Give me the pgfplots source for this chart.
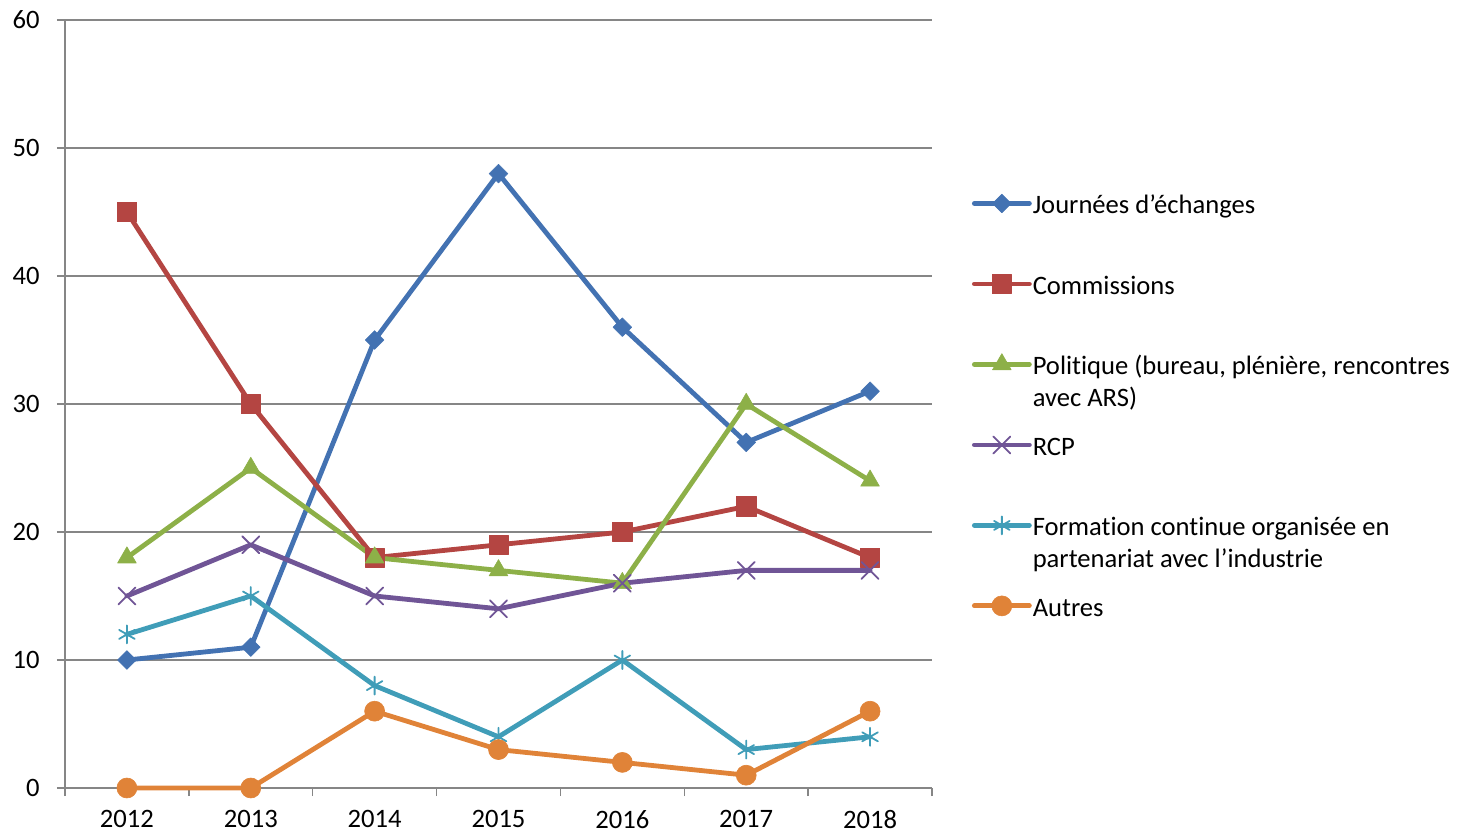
\documentclass[border=0pt]{standalone}
\usepackage{pgfplots}
\pgfplotsset{compat=1.18}
\usepackage{fontspec}
\setmainfont{Carlito}[Ligatures={NoCommon}]
\definecolor{cblue}{RGB}{67,114,178}
\definecolor{cred}{RGB}{180,69,66}
\definecolor{cgreen}{RGB}{141,176,72}
\definecolor{cpurple}{RGB}{112,85,150}
\definecolor{caqua}{RGB}{64,157,184}
\definecolor{corange}{RGB}{224,131,56}
\definecolor{axgray}{RGB}{134,134,134}
\newcommand{\lt}[1]{\raisebox{0pt}[12bp][3bp]{\parbox[t]{240bp}{\raggedright #1}}}
\begin{document}
\begin{tikzpicture}
\begin{axis}[
  at={(32.5bp,22.5bp)}, anchor=south west,
  scale only axis, width=433.5bp, height=384bp,
  xmin=-0.5, xmax=6.5, ymin=0, ymax=60,
  clip=false,
  axis lines*=left,
  axis line style={draw=axgray, line width=0.9bp},
  xtick={0,...,6},
  xticklabels={2012,2013,2014,2015,2016,2017,2018},
  major x tick style={draw=none},
  minor xtick={-0.5,0.5,...,6.5},
  ytick={0,10,...,60},
  tick align=outside,
  major tick length=4bp, minor tick length=4bp,
  every tick/.style={draw=axgray, line width=0.75bp},
  ymajorgrids,
  grid style={draw=axgray, line width=0.75bp},
  /pgf/number format/assume math mode=true,
  tick label style={font=\fontsize{13.3bp}{16bp}\selectfont, inner sep=0pt},
  yticklabel style={anchor=east, xshift=-8.5bp},
  xticklabel style={anchor=north, yshift=-7bp},
  legend style={at={(1.0461,0.7787)}, anchor=north west, draw=none, fill=none,
    inner sep=0pt, outer sep=0pt, row sep=26.75bp, column sep=0.5bp,
    font=\fontsize{13.3bp}{16bp}\selectfont,
    nodes={inner sep=0pt, outer sep=0pt}},
  legend cell align=left,
  legend image code/.code={
    \draw[mark repeat=2, mark phase=2, #1] plot coordinates {(0bp,0bp) (13.75bp,0bp) (27.5bp,0bp)};
  },
  every axis plot/.append style={line width=2.4bp, line cap=round, line join=round},
]
\addplot[color=cblue, mark=square*, mark size=3.3bp, mark options={rotate=45, fill=cblue, line width=0.3bp}]
  coordinates {(0,10) (1,11) (2,35) (3,48) (4,36) (5,27) (6,31)};
\addlegendentry{\lt{Journées d’échanges}}
\addplot[color=cred, mark=square*, mark size=4.8bp, mark options={fill=cred, line width=0.3bp}]
  coordinates {(0,45) (1,30) (2,18) (3,19) (4,20) (5,22) (6,18)};
\addlegendentry{\lt{Commissions}}
\addplot[color=cgreen, mark=triangle*, mark size=5.4bp, mark options={fill=cgreen, line width=0.3bp}]
  coordinates {(0,18) (1,25) (2,18) (3,17) (4,16) (5,30) (6,24)};
\addlegendentry{\lt{Politique (bureau, plénière, rencontres\\avec ARS)}}
\addplot[color=cpurple, mark=x, mark size=6bp, mark options={line width=0.9bp}]
  coordinates {(0,15) (1,19) (2,15) (3,14) (4,16) (5,17) (6,17)};
\addlegendentry{\lt{RCP}}
\addplot[color=caqua, mark=asterisk, mark size=4.5bp, mark options={line width=0.9bp}]
  coordinates {(0,12) (1,15) (2,8) (3,4) (4,10) (5,3) (6,4)};
\addlegendentry{\lt{Formation continue organisée en\\partenariat avec l’industrie}}
\addplot[color=corange, mark=*, mark size=5bp, mark options={fill=corange, line width=0.3bp}]
  coordinates {(0,0) (1,0) (2,6) (3,3) (4,2) (5,1) (6,6)};
\addlegendentry{\lt{Autres}}
\end{axis}
\pgfresetboundingbox
\useasboundingbox (0,0) rectangle (728.5bp,416.5bp);
\end{tikzpicture}
\end{document}
